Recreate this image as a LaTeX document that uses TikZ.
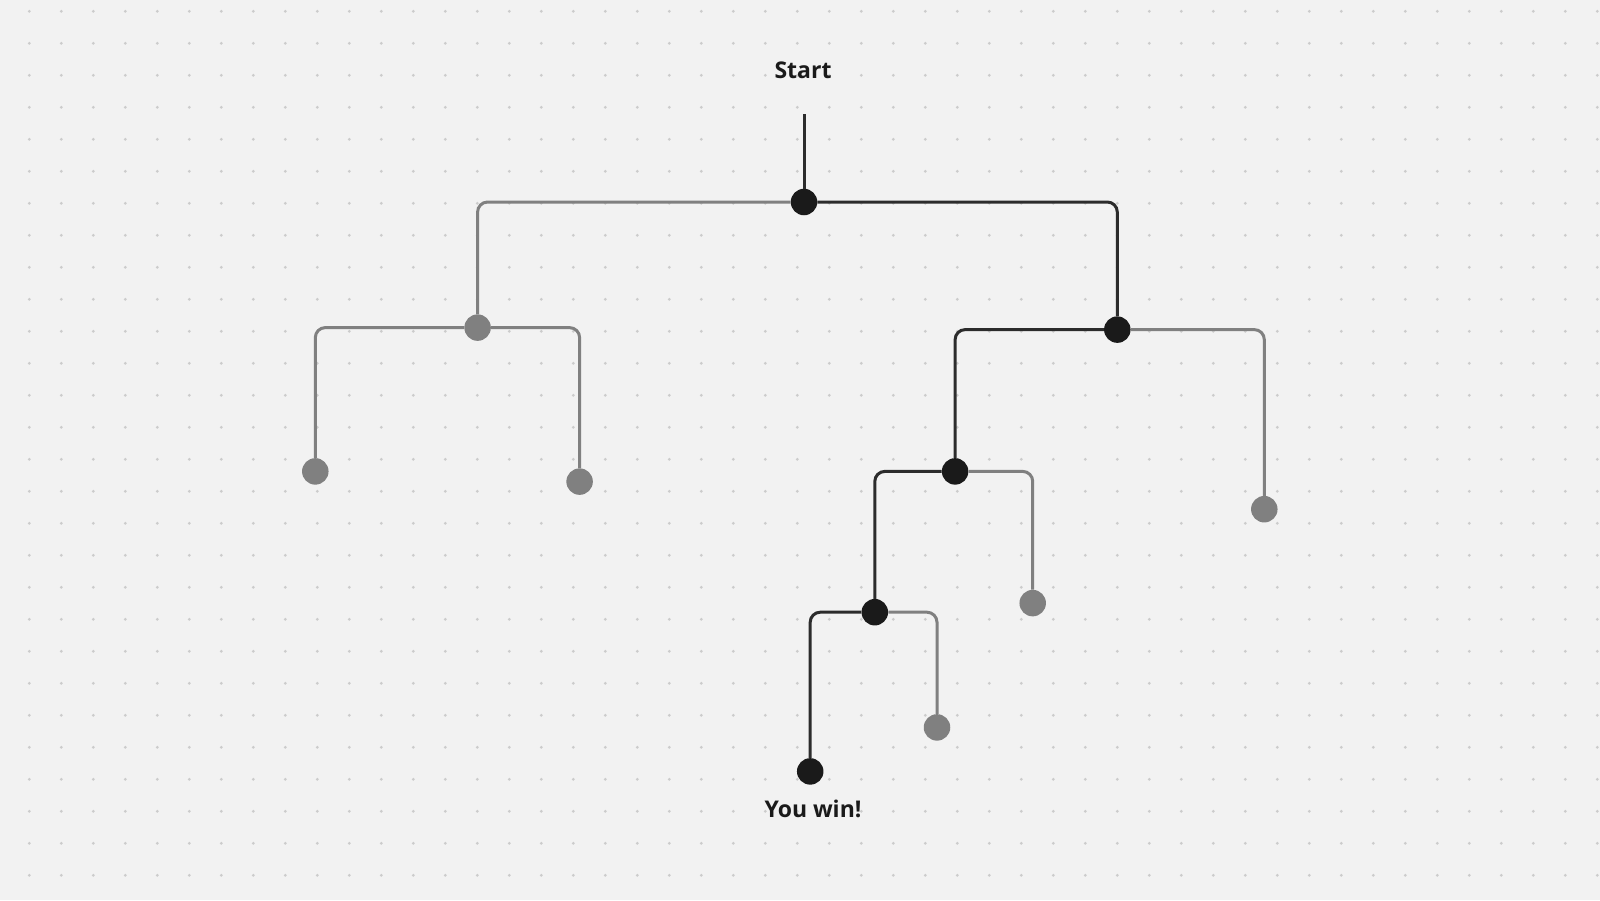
\documentclass[tikz,border=0pt]{standalone}
\usepackage{fontspec}
\setmainfont{Open Sans}
\usetikzlibrary{positioning}
\definecolor{trbg}{HTML}{F2F2F2}
\definecolor{trdot}{HTML}{CCCCCC}
\definecolor{trink}{HTML}{1A1A1A}
\definecolor{trline}{HTML}{2C2C2C}
\definecolor{trgray}{HTML}{808080}
\tikzset{
  winNode/.style={circle, fill=trink, minimum size=26.5pt, inner sep=0pt},
  lostNode/.style={circle, fill=trgray, minimum size=26.5pt, inner sep=0pt},
  winEdge/.style={draw=trline, line width=3pt, rounded corners=10pt},
  lostEdge/.style={draw=trgray, line width=3pt, rounded corners=10pt},
  treeLabel/.style={font=\bfseries\fontsize{23}{27}\selectfont, text=trink, inner sep=0pt}
}
\begin{document}
\begin{tikzpicture}[x=1pt,y=-1pt]
  \fill[trbg] (0,0) rectangle (1600,900);
  \useasboundingbox (0,0) rectangle (1600,900);
  % dotted paper
  \foreach \i in {0,...,49}
    \foreach \j in {0,...,27}
      \fill[trdot] ({29.3+32*\i},{11.3+32*\j}) circle (1.6pt);

  \node[treeLabel] (start) at (803,70) {Start};
  \coordinate (top) at (804,114);

  \node[winNode]  (root) at (804,202) {};
  \node[lostNode] (l)    at (477.6,327.6) {};
  \node[winNode]  (r)    at (1117.3,329.6) {};
  \node[lostNode] (ll)   at (315.3,471.4) {};
  \node[lostNode] (lr)   at (579.6,481.6) {};
  \node[winNode]  (rl)   at (955.1,471.4) {};
  \node[lostNode] (rr)   at (1264.3,509.2) {};
  \node[winNode]  (rll)  at (874.8,612.2) {};
  \node[lostNode] (rlr)  at (1032.7,603.1) {};
  \node[winNode]  (win)  at (810.2,771.4) {};
  \node[lostNode] (rllr) at (937,727.4) {};

  \node[treeLabel] (goal) at (813,809) {You win!};

  \draw[winEdge] (top) -- (root);
  \draw[lostEdge] (root) -| (l);
  \draw[winEdge] (root) -| (r);
  \draw[lostEdge] (l) -| (ll);
  \draw[lostEdge] (l) -| (lr);
  \draw[winEdge] (r) -| (rl);
  \draw[lostEdge] (r) -| (rr);
  \draw[winEdge] (rl) -| (rll);
  \draw[lostEdge] (rl) -| (rlr);
  \draw[winEdge] (rll) -| (win);
  \draw[lostEdge] (rll) -| (rllr);
\end{tikzpicture}
\end{document}
